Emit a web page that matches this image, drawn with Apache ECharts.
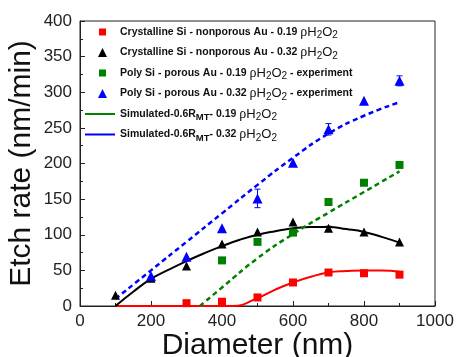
<!DOCTYPE html>
<html>
<head>
<meta charset="UTF-8">
<title>Etch rate vs diameter</title>
<script type="text/javascript" src="https://cdn.jsdelivr.net/npm/echarts@6/dist/echarts.min.js"></script>
</head>
<body style="margin:0">
	<div id="div1" style="width:457px;height:357px"></div>
	<script type="text/javascript">
	// measured points
	var redX = [300, 400, 500, 600, 700, 800, 900];
	var redY = [4, 6, 12, 33, 47, 46, 44];
	var blackX = [100, 200, 300, 400, 500, 600, 700, 800, 900];
	var blackY = [15, 39, 56, 87, 104, 118, 109, 104, 90];
	var blackErr = [0, 0, 0, 0, 0, 0, 3, 0, 0];
	var greenX = [400, 500, 600, 700, 800, 900];
	var greenY = [64, 90, 103, 146, 173, 198];
	var blueX = [200, 300, 400, 500, 600, 700, 800, 900];
	var blueY = [42, 69, 109, 151, 201, 248, 288, 316];
	var blueErr = [0, 0, 0, 13, 0, 8, 0, 7];

	// simulated curves
	var redFitX = [100, 430, 500, 550, 600, 650, 700, 750, 800, 850, 900];
	var redFitY = [0, 0, 11, 23, 33, 41, 47, 49, 50, 50, 48];
	var blackFitX = [100, 150, 200, 250, 300, 350, 400, 450, 500, 550, 600, 650, 700, 750, 800, 850, 900];
	var blackFitY = [0, 20, 38, 51, 63, 74, 84, 93, 100, 105, 109, 111, 111, 108, 104, 97, 89];
	var greenFitX = [338, 400, 500, 600, 700, 800, 900];
	var greenFitY = [0, 26, 67, 101, 131, 160, 189];
	var blueFitX = [100, 200, 300, 400, 500, 600, 700, 800, 900];
	var blueFitY = [10, 50, 90, 130, 170, 208, 242, 267, 286];

	var labels = {
		c19: '{b|Crystalline Si - nonporous Au - 0.19 }{r|ρ}{n|H}{s|2}{n|O}{s|2}',
		c32: '{b|Crystalline Si - nonporous Au - 0.32 }{r|ρ}{n|H}{s|2}{n|O}{s|2}',
		p19: '{b|Poly Si - porous Au - 0.19 }{r|ρ}{n|H}{s|2}{n|O}{s|2}{b| - experiment}',
		p32: '{b|Poly Si - porous Au - 0.32 }{r|ρ}{n|H}{s|2}{n|O}{s|2}{b| - experiment}',
		s19: '{b|Simulated-0.6R}{bs|MT}{b|- 0.19 }{r|ρ}{n|H}{s|2}{n|O}{s|2}',
		s32: '{b|Simulated-0.6R}{bs|MT}{b|- 0.32 }{r|ρ}{n|H}{s|2}{n|O}{s|2}'
	};
	// legend icons, drawn inside a 30x9 box so they keep their size
	var box = 'path://M0,0 M30,9 ';
	var sqIcon = box + 'M14,1 L21,1 L21,8 L14,8 Z';
	var triIcon = box + 'M17.5,0 L22,9 L13,9 Z';
	var lineIcon = box + 'M0,3.5 L30,3.5 L30,5.5 L0,5.5 Z';

	function pairs(xs, ys) {
		var res = [];
		for (var i = 0; i < xs.length; i++) {
			res.push([xs[i], ys[i]]);
		}
		return res;
	}
	function errData(xs, ys, es) {
		var res = [];
		for (var i = 0; i < xs.length; i++) {
			if (es[i] > 0) res.push([xs[i], ys[i], es[i]]);
		}
		return res;
	}
	function errBar(color) {
		return function (params, api) {
			var x = api.value(0), y = api.value(1), e = api.value(2);
			var hi = api.coord([x, y + e]);
			var lo = api.coord([x, y - e]);
			var w = 3;
			var st = { stroke: color, lineWidth: 1 };
			return {
				type: 'group',
				children: [
					{ type: 'line', shape: { x1: hi[0], y1: hi[1], x2: lo[0], y2: lo[1] }, style: st },
					{ type: 'line', shape: { x1: hi[0] - w, y1: hi[1], x2: hi[0] + w, y2: hi[1] }, style: st },
					{ type: 'line', shape: { x1: lo[0] - w, y1: lo[1], x2: lo[0] + w, y2: lo[1] }, style: st }
				]
			};
		};
	}

	var font = 'Liberation Sans, Arial, sans-serif';
	var myChart = echarts.init(document.getElementById('div1'));
	var option = {
		animation: false,
		grid: {
			left: 80, right: 22, top: 21, bottom: 51,
			outerBoundsMode: 'none',
			show: true, borderColor: '#222', borderWidth: 1
		},
		legend: {
			data: [
				{ name: 'c19', icon: sqIcon },
				{ name: 'c32', icon: triIcon },
				{ name: 'p19', icon: sqIcon },
				{ name: 'p32', icon: triIcon },
				{ name: 's19', icon: lineIcon },
				{ name: 's32', icon: lineIcon }
			],
			orient: 'vertical',
			left: 85,
			top: 25,
			padding: 0,
			itemWidth: 30,
			itemHeight: 9,
			itemGap: 5,
			formatter: function (name) { return labels[name]; },
			textStyle: {
				rich: {
					b: { fontFamily: font, fontWeight: 'bold', fontSize: 10.5, color: '#111' },
					bs: { fontFamily: font, fontWeight: 'bold', fontSize: 9.5, color: '#111', padding: [7, 0, 0, 0] },
					r: { fontFamily: 'Liberation Serif, serif', fontSize: 14, color: '#111' },
					n: { fontFamily: font, fontSize: 13, color: '#111' },
					s: { fontFamily: font, fontSize: 10, color: '#111', padding: [7, 0, 0, 0] }
				}
			}
		},
		xAxis: {
			type: 'value',
			min: 0, max: 1000, interval: 200,
			name: 'Diameter (nm)',
			nameLocation: 'middle',
			nameGap: 25,
			nameMoveOverlap: false,
			nameTextStyle: { fontFamily: font, fontSize: 30, color: '#111' },
			axisLine: { lineStyle: { color: '#222' } },
			axisTick: { inside: true, length: 5, lineStyle: { color: '#222' } },
			minorTick: { show: true, splitNumber: 2, length: 3, lineStyle: { color: '#222' } },
			axisLabel: {
				fontFamily: font, fontSize: 17, color: '#222', margin: 7,
				formatter: function (v) { return String(v); }
			},
			splitLine: { show: false }
		},
		yAxis: {
			type: 'value',
			min: 0, max: 400, interval: 50,
			name: 'Etch rate (nm/min)',
			nameLocation: 'middle',
			nameGap: 43,
			nameMoveOverlap: false,
			nameTextStyle: { fontFamily: font, fontSize: 30, color: '#111' },
			axisLine: { show: true, lineStyle: { color: '#222' } },
			axisTick: { show: true, inside: true, length: 5, lineStyle: { color: '#222' } },
			minorTick: { show: true, splitNumber: 2, length: 3, lineStyle: { color: '#222' } },
			axisLabel: { fontFamily: font, fontSize: 17, color: '#222', margin: 8 },
			splitLine: { show: false }
		},
		series: [
			{ type: 'line', data: pairs(redFitX, redFitY), smooth: true, symbol: 'none',
				lineStyle: { color: '#ff0000', width: 2 }, z: 2 },
			{ type: 'line', data: pairs(blackFitX, blackFitY), smooth: true, symbol: 'none',
				lineStyle: { color: '#000', width: 2 }, z: 2 },
			{ name: 's19', type: 'line', data: pairs(greenFitX, greenFitY), smooth: true, symbol: 'none',
				itemStyle: { color: '#008000' },
				lineStyle: { color: '#008000', width: 2.5, type: [5, 3.5] }, z: 2 },
			{ name: 's32', type: 'line', data: pairs(blueFitX, blueFitY), smooth: true, symbol: 'none',
				itemStyle: { color: '#0000ff' },
				lineStyle: { color: '#0000ff', width: 2.5, type: [5, 3.5] }, z: 2 },
			{ name: 'c19', type: 'scatter', symbol: 'rect', symbolSize: 8,
				data: pairs(redX, redY), itemStyle: { color: '#ff0000', opacity: 1 }, z: 3 },
			{ name: 'c32', type: 'scatter', symbol: 'triangle', symbolSize: 9,
				data: pairs(blackX, blackY), itemStyle: { color: '#000', opacity: 1 }, z: 3 },
			{ name: 'p19', type: 'scatter', symbol: 'rect', symbolSize: 8,
				data: pairs(greenX, greenY), itemStyle: { color: '#008000', opacity: 1 }, z: 3 },
			{ name: 'p32', type: 'scatter', symbol: 'triangle', symbolSize: 10,
				data: pairs(blueX, blueY), itemStyle: { color: '#0000ff', opacity: 1 }, z: 3 },
			{ type: 'custom', renderItem: errBar('#0000ff'), data: errData(blueX, blueY, blueErr), z: 4 },
			{ type: 'custom', renderItem: errBar('#000'), data: errData(blackX, blackY, blackErr), z: 4 }
		]
	};
	myChart.setOption(option);
	</script>
</body>
</html>
